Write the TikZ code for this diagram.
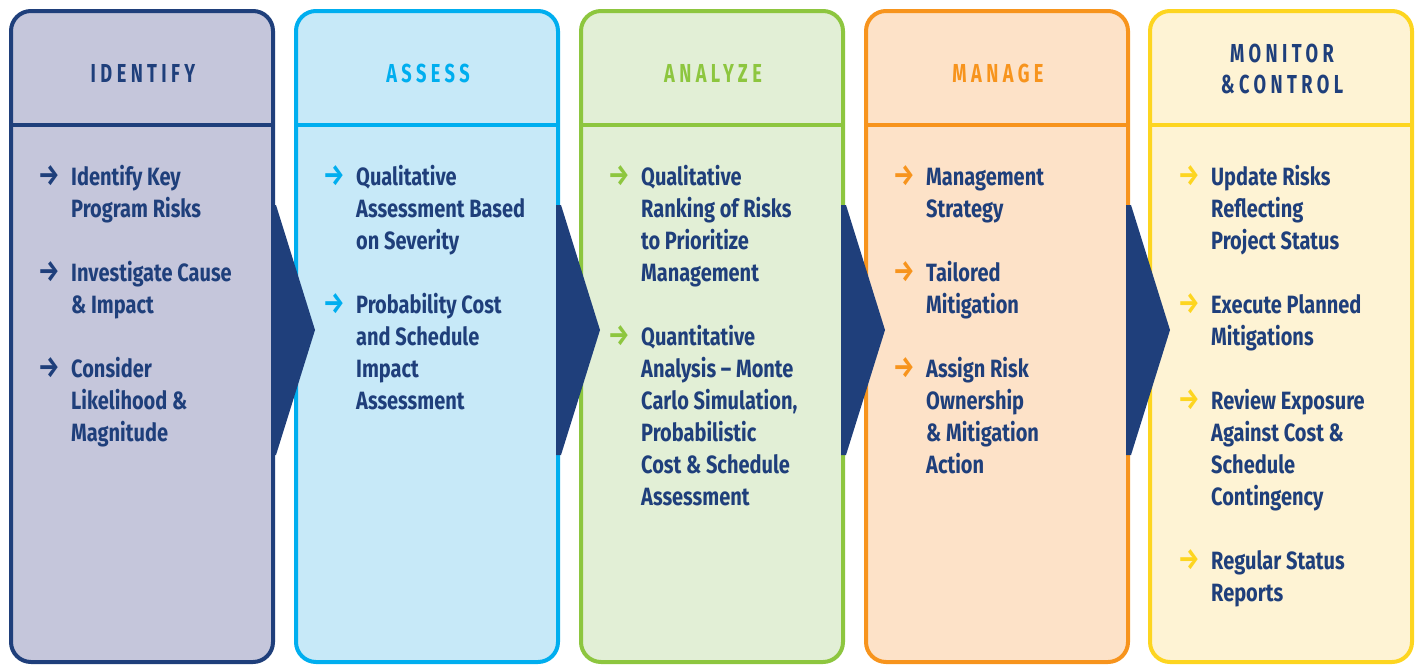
\documentclass[tikz,border=0pt]{standalone}
\usepackage{fontspec}
\setmainfont{Fira Sans}[FakeStretch=0.8]
\newfontfamily\headfont{Fira Sans}[FakeStretch=0.7, LetterSpace=17]
\usetikzlibrary{positioning}

\definecolor{navy}{HTML}{1F3F7B}
\definecolor{idfill}{HTML}{C5C6DB}
\definecolor{asline}{HTML}{00AEEF}
\definecolor{asfill}{HTML}{C7E9F8}
\definecolor{anline}{HTML}{8DC63F}
\definecolor{anfill}{HTML}{E2EFD6}
\definecolor{mgline}{HTML}{F7941D}
\definecolor{mgfill}{HTML}{FDE2C8}
\definecolor{mcline}{HTML}{FDD520}
\definecolor{mcfill}{HTML}{FEF3D4}

% lines of one item, baseline on the first line
\newcommand{\itemlines}[1]{\begin{tabular}[t]{@{}l@{}}#1\end{tabular}}

\tikzset{
  colbox/.style={line width=4pt, rounded corners=20pt},
  divider/.style={line width=4pt},
  heading/.style={font=\headfont\fontsize{26}{31}\selectfont\bfseries, align=center, inner sep=0pt},
  itm/.style={font=\fontsize{25}{32}\selectfont\bfseries, text=navy, inner sep=0pt, anchor=base west},
  pointer/.style={font=\fontsize{30}{30}\selectfont\bfseries, inner sep=0pt, anchor=base},
  chevron/.style={fill=navy, draw=none}
}

\begin{document}
\begin{tikzpicture}[x=1pt, y=-1pt]

  \useasboundingbox (0, 0) rectangle (1418, 664);
  \begin{scope}
  \clip (0, 0) rectangle (1418, 664);

  % the five columns
  \draw[colbox, draw=navy, fill=idfill] (11, 11) rectangle (273, 662);
  \draw[divider, navy] (11, 125) -- (273, 125);

  \draw[colbox, draw=asline, fill=asfill] (296, 11) rectangle (558, 662);
  \draw[divider, asline] (296, 125) -- (558, 125);

  \draw[colbox, draw=anline, fill=anfill] (581, 11) rectangle (843, 662);
  \draw[divider, anline] (581, 125) -- (843, 125);

  \draw[colbox, draw=mgline, fill=mgfill] (866, 11) rectangle (1128, 662);
  \draw[divider, mgline] (866, 125) -- (1128, 125);

  \draw[colbox, draw=mcline, fill=mcfill] (1150, 11) rectangle (1412, 662);
  \draw[divider, mcline] (1150, 125) -- (1412, 125);
  \end{scope}

  % chevrons between the columns
  \fill[chevron] (271, 205) -- (276, 205) -- (315, 330) -- (276, 455) -- (271, 455) -- cycle;
  \fill[chevron] (556, 205) -- (561, 205) -- (600, 330) -- (561, 455) -- (556, 455) -- cycle;
  \fill[chevron] (841, 205) -- (846, 205) -- (885, 330) -- (846, 455) -- (841, 455) -- cycle;
  \fill[chevron] (1126, 205) -- (1131, 205) -- (1170, 330) -- (1131, 455) -- (1126, 455) -- cycle;

  % headings
  \node[heading, text=navy] (identify) at (143, 73) {IDENTIFY};
  \node[heading, text=asline] (assess) at (428, 73) {ASSESS};
  \node[heading, text=anline] (analyze) at (713, 73) {ANALYZE};
  \node[heading, text=mgline] (manage) at (998, 73) {MANAGE};
  \node[heading, text=navy] (monitor) at (1282, 69) {MONITOR\\\&CONTROL};

  % identify
  \node[itm] (id1) at (71, 185) {\itemlines{Identify Key\\Program Risks}};
  \node[itm] (id2) at (71, 281) {\itemlines{Investigate Cause\\\& Impact}};
  \node[itm] (id3) at (71, 377) {\itemlines{Consider\\Likelihood \&\\Magnitude}};
  \node[pointer, text=navy] (idp1) at ([xshift=-22pt]id1.base west) {→};
  \node[pointer, text=navy] (idp2) at ([xshift=-22pt]id2.base west) {→};
  \node[pointer, text=navy] (idp3) at ([xshift=-22pt]id3.base west) {→};

  % assess
  \node[itm] (as1) at (356, 185) {\itemlines{Qualitative\\Assessment Based\\on Severity}};
  \node[itm] (as2) at (356, 313) {\itemlines{Probability Cost\\and Schedule\\Impact\\Assessment}};
  \node[pointer, text=asline] (asp1) at ([xshift=-22pt]as1.base west) {→};
  \node[pointer, text=asline] (asp2) at ([xshift=-22pt]as2.base west) {→};

  % analyze
  \node[itm] (an1) at (641, 185) {\itemlines{Qualitative\\Ranking of Risks\\to Prioritize\\Management}};
  \node[itm] (an2) at (641, 345) {\itemlines{Quantitative\\Analysis -- Monte\\Carlo Simulation,\\Probabilistic\\Cost \& Schedule\\Assessment}};
  \node[pointer, text=anline] (anp1) at ([xshift=-22pt]an1.base west) {→};
  \node[pointer, text=anline] (anp2) at ([xshift=-22pt]an2.base west) {→};

  % manage
  \node[itm] (mg1) at (926, 185) {\itemlines{Management\\Strategy}};
  \node[itm] (mg2) at (926, 281) {\itemlines{Tailored\\Mitigation}};
  \node[itm] (mg3) at (926, 377) {\itemlines{Assign Risk\\Ownership\\\& Mitigation\\Action}};
  \node[pointer, text=mgline] (mgp1) at ([xshift=-22pt]mg1.base west) {→};
  \node[pointer, text=mgline] (mgp2) at ([xshift=-22pt]mg2.base west) {→};
  \node[pointer, text=mgline] (mgp3) at ([xshift=-22pt]mg3.base west) {→};

  % monitor & control
  \node[itm] (mc1) at (1211, 185) {\itemlines{Update Risks\\Reflecting\\Project Status}};
  \node[itm] (mc2) at (1211, 313) {\itemlines{Execute Planned\\Mitigations}};
  \node[itm] (mc3) at (1211, 409) {\itemlines{Review Exposure\\Against Cost \&\\Schedule\\Contingency}};
  \node[itm] (mc4) at (1211, 569) {\itemlines{Regular Status\\Reports}};
  \node[pointer, text=mcline] (mcp1) at ([xshift=-22pt]mc1.base west) {→};
  \node[pointer, text=mcline] (mcp2) at ([xshift=-22pt]mc2.base west) {→};
  \node[pointer, text=mcline] (mcp3) at ([xshift=-22pt]mc3.base west) {→};
  \node[pointer, text=mcline] (mcp4) at ([xshift=-22pt]mc4.base west) {→};

\end{tikzpicture}
\end{document}
